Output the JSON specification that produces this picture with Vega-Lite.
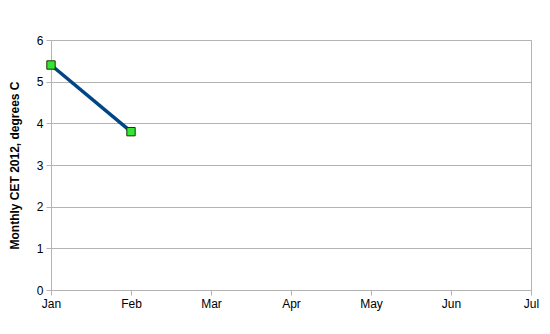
{
  "$schema": "https://vega.github.io/schema/vega-lite/v6.json",
  "width": 480,
  "height": 250,
  "autosize": {"type": "none"},
  "padding": {"left": 51, "top": 40, "right": 19, "bottom": 44},
  "background": "white",
  "config": {
    "view": {"stroke": "#b3b3b3", "strokeWidth": 1},
    "font": "Liberation Sans",
    "axis": {
      "labelFont": "Liberation Sans",
      "labelFontSize": 12,
      "labelColor": "#000000",
      "domainColor": "#b3b3b3",
      "tickColor": "#b3b3b3",
      "gridColor": "#b3b3b3",
      "tickSize": 5
    }
  },
  "data": {
    "values": [
      {"month": "Jan", "temp": 5.4},
      {"month": "Feb", "temp": 3.8}
    ]
  },
  "encoding": {
    "x": {
      "field": "month",
      "type": "ordinal",
      "sort": null,
      "scale": {"type": "point", "domain": ["Jan", "Feb", "Mar", "Apr", "May", "Jun", "Jul"], "padding": 0},
      "axis": {"title": null, "labelAngle": 0, "grid": false, "labelPadding": 3}
    },
    "y": {
      "field": "temp",
      "type": "quantitative",
      "scale": {"domain": [0, 6], "nice": false},
      "axis": {
        "title": "Monthly CET 2012, degrees C",
        "titleFontSize": 12,
        "titleFontWeight": "bold",
        "titleFont": "Liberation Sans",
        "titleColor": "#000000",
        "titlePadding": 15,
        "values": [0, 1, 2, 3, 4, 5, 6],
        "grid": true,
        "labelPadding": 3
      }
    }
  },
  "layer": [
    {"mark": {"type": "line", "color": "#004586", "strokeWidth": 3.5}},
    {"mark": {"type": "square", "filled": true, "fill": "#33e633", "stroke": "#1a3300", "strokeWidth": 1, "size": 70, "opacity": 1}}
  ]
}
